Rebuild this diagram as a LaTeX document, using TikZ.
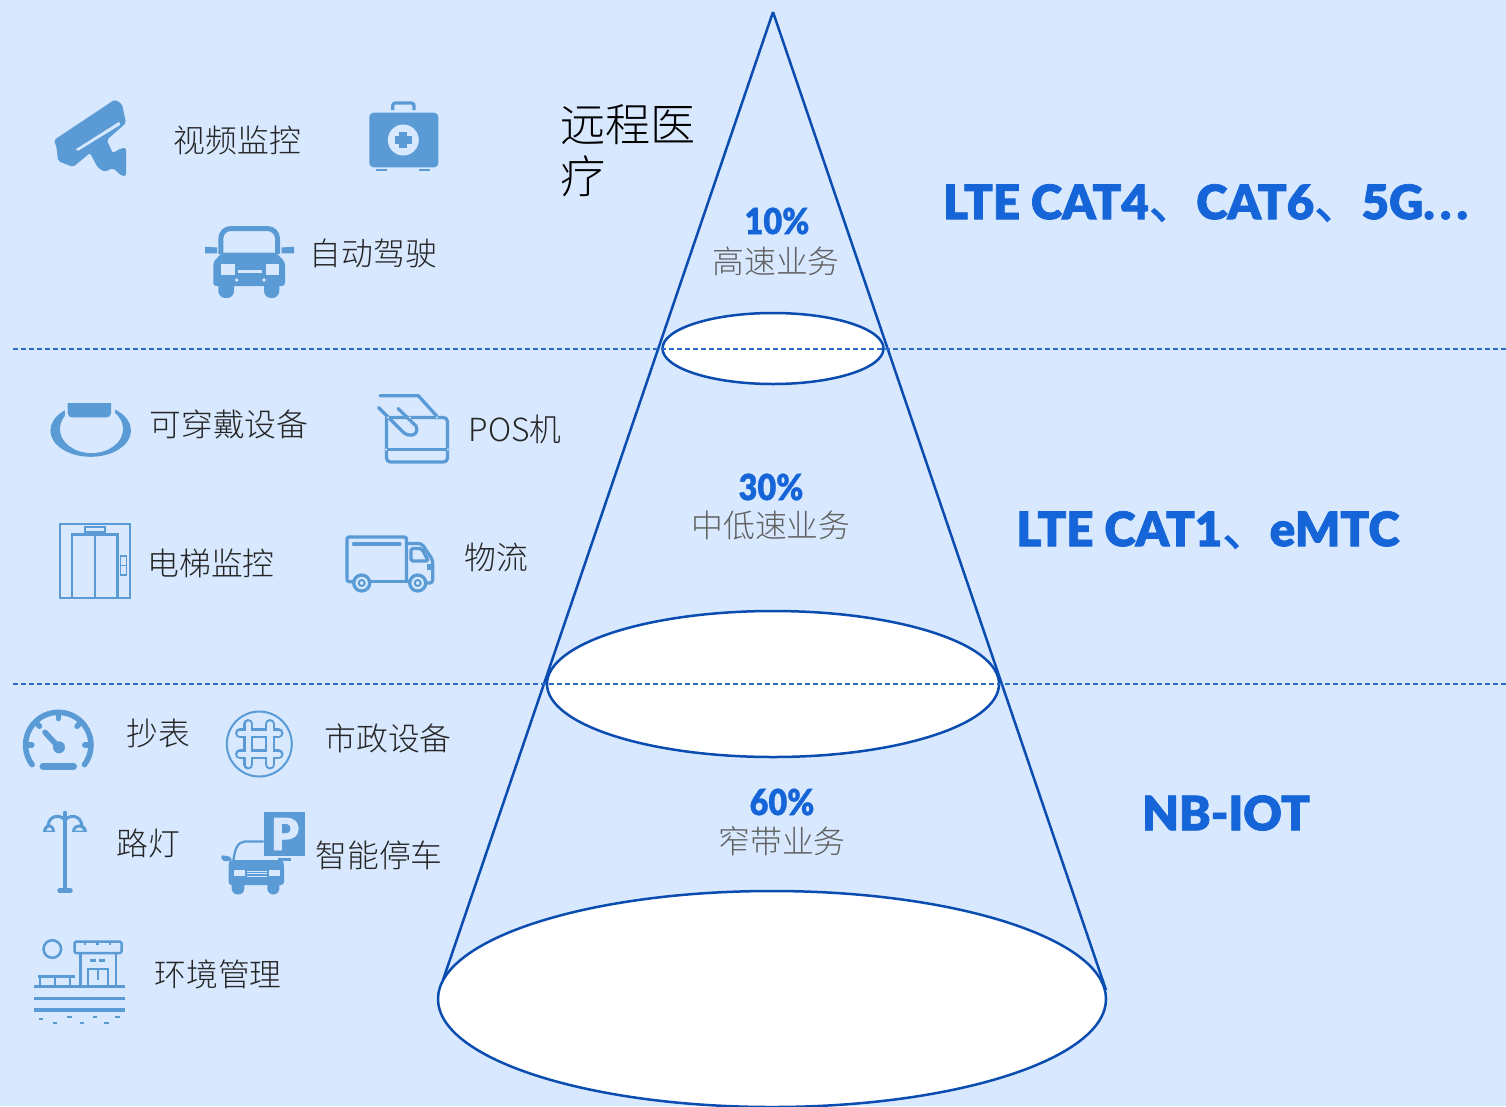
\documentclass[tikz,border=0pt]{standalone}
\usepackage{fontspec}
\usetikzlibrary{calc}
\newfontfamily\cjklight{Noto Sans CJK SC Light}
\newfontfamily\cjkmark{Noto Sans CJK SC}[FakeBold=1.5]
\newfontfamily\heavylabel{Lato}[UprightFont=* Black,FakeBold=1.6]
\newfontfamily\narrowlabel{Lato}[UprightFont=* Black,FakeStretch=0.9,FakeBold=0.8]
\definecolor{pagebg}{HTML}{D7E8FF}
\definecolor{iconblue}{HTML}{5B9BD5}
\definecolor{conelinecolor}{HTML}{0B4CB0}
\definecolor{labelblue}{HTML}{1565D8}
\definecolor{dashblue}{HTML}{2A6CC8}
\tikzset{
  itemtext/.style={font=\cjklight\fontsize{18.1}{20}\selectfont,text=black!85,inner sep=0pt},
  bigtext/.style={font=\cjklight\fontsize{25.7}{29.5}\selectfont,text=black,inner sep=0pt,align=left},
  ratetext/.style={font=\cjklight\fontsize{18.1}{20}\selectfont,text=black!62,inner sep=0pt},
  ratenum/.style={font=\narrowlabel\fontsize{20.5}{22}\selectfont,text=labelblue,inner sep=0pt},
  techtext/.style={font=\heavylabel\fontsize{27}{30}\selectfont,text=labelblue,inner sep=0pt},
  coneline/.style={draw=conelinecolor,line width=0.05cm},
  levelline/.style={draw=dashblue,line width=0.04cm,dash pattern=on 0.1cm off 0.06cm},
  iconfill/.style={fill=iconblue,draw=none},
  iconline/.style={draw=iconblue,line width=0.065cm,line cap=round,line join=round},
  iconthin/.style={draw=iconblue,line width=0.05cm},
  cutfill/.style={fill=pagebg,draw=none}
}
\begin{document}
\begin{tikzpicture}[x=0.02cm,y=-0.02cm]
  \useasboundingbox (0,0) rectangle (1506,1106);
  \fill [pagebg] (0,0) rectangle (1506,1106);

  % Marking the cone
  \coordinate (apex) at (773,12);
  \coordinate (coneleft) at (443,980);
  \coordinate (coneright) at (1106,990);
  \draw [coneline] (apex) -- (coneleft);
  \draw [coneline] (apex) -- (coneright);
  \begin{scope}
    \clip (0,0) rectangle (1506,1106);
    \draw [coneline,fill=white] (772,999) ellipse (334 and 108);
  \end{scope}
  \draw [coneline,fill=white] (773,684) ellipse (226 and 73);
  \draw [coneline,fill=white] (773,348.5) ellipse (110.5 and 35.5);

  % Drawing level lines
  \coordinate (levelaleft) at (13,348.5);
  \coordinate (levelaright) at (1506,348.5);
  \coordinate (levelbleft) at (13,683.5);
  \coordinate (levelbright) at (1506,683.5);
  \draw [levelline] (levelaleft) -- (levelaright);
  \draw [levelline] (levelbleft) -- (levelbright);

  % Camera icon
  \fill [iconfill,rounded corners=0.04cm] (54,140) -- (115,99.5) -- (122,104) -- (126,123) -- (106.7,140) -- (112.7,153) -- (121.7,148) -- (126,148) -- (126,176) -- (121.7,176) -- (113,168) -- (105,171.7) -- (98,168) -- (90,153) -- (73,167) -- (58,161) -- (56.7,148) -- cycle;
  \fill [cutfill] (75.7,149.3) -- (119.3,121.7) -- (120,125) -- (78.3,150.7) -- cycle;

  % Medical kit icon
  \draw [iconline,rounded corners=0.05cm,line cap=butt] (392.7,110) -- (392.7,103) -- (414,103) -- (414,110);
  \fill [iconfill,rounded corners=0.08cm] (369.3,112.7) rectangle (438.3,167.3);
  \fill [iconfill] (376,169) rectangle (386.7,170.7);
  \fill [iconfill] (419.3,169) rectangle (430,170.7);
  \fill [cutfill] (403.3,140) circle (15.5);
  \fill [iconfill] (399.3,131.7) rectangle (407.3,148.3);
  \fill [iconfill] (395,136) rectangle (411.7,144);

  % Car icon
  \draw [iconline,line width=0.1cm,rounded corners=0.2cm,line cap=butt] (220.8,254) -- (220.8,228.5) -- (277.5,228.5) -- (277.5,254);
  \fill [iconfill,rounded corners=0.06cm] (222,252.7) -- (276,252.7) -- (285,262) -- (285,286) -- (213.3,286) -- (213.3,262) -- cycle;
  \fill [iconfill,rounded corners=0.14cm] (218.3,275) rectangle (234,298);
  \fill [iconfill,rounded corners=0.14cm] (264,275) rectangle (279.3,298);
  \fill [iconfill] (205,246.7) -- (217,247.5) -- (217,253.3) -- (205,253.3) -- cycle;
  \fill [iconfill] (281.7,247.5) -- (294,246.7) -- (294,253.3) -- (281.7,253.3) -- cycle;
  \fill [cutfill] (221,264) rectangle (235,275);
  \fill [cutfill] (265.7,264) rectangle (279.3,275);
  \fill [cutfill] (238.3,270) rectangle (261.7,272.7);
  \fill [cutfill] (236.7,280) circle (1.8);
  \fill [cutfill] (264,280) circle (1.8);

  % Wrist band icon
  \fill [iconfill] (90.7,430.5) ellipse (40.3 and 26.3);
  \fill [cutfill] (91.5,429) ellipse (31.5 and 24);
  \fill [cutfill] (60,400) rectangle (120,404);
  \fill [cutfill] (64.5,402) rectangle (114.5,419.5);
  \fill [iconfill,rounded corners=0.08cm] (67.7,396) -- (111,396) -- (111,417.3) -- (67.7,417.3) -- cycle;
  \fill [cutfill] (60,396) rectangle (120,402.7);

  % Card terminal icon
  \draw [iconline,rounded corners=0.08cm] (386.5,418) -- (386.5,462) -- (447.5,462) -- (447.5,417.5) -- (386.5,417.5);
  \draw [iconline] (386,449.5) -- (448,449.5);
  \draw [iconline] (380,395.7) -- (418.3,395.7) -- (436.7,416);
  \draw [iconline] (378.5,407.5) -- (402,431) .. controls (408,438) and (420,436) .. (416,426) -- (398,408.5);
  \foreach \dotx/\doty in {388/417.5,410/417.5,437/417.5,386/449.5,448/449.5}{
    \fill [cutfill] (\dotx,\doty) circle (1.2);
  }

  % Elevator icon
  \draw [iconthin] (60,524) rectangle (130,598);
  \draw [iconthin] (72,534.5) rectangle (117.5,598);
  \draw [iconthin] (95,534.5) -- (95,598);
  \draw [iconthin,line width=0.035cm] (85,527) rectangle (105,532);
  \draw [iconthin,line width=0.035cm] (120.5,556) rectangle (126.5,575);
  \draw [iconthin,line width=0.035cm] (120.5,565.5) -- (126.5,565.5);

  % Truck icon
  \draw [iconline,rounded corners=0.04cm] (353,581.7) -- (347,581.7) -- (347,537) -- (406.5,537) -- (406.5,581.7);
  \draw [iconline] (369.5,581.7) -- (410,581.7);
  \draw [iconline] (353.5,544) -- (400,544);
  \draw [iconline,rounded corners=0.06cm] (406.5,543.5) -- (421.7,543.5) -- (432.7,560) -- (432.7,583) -- (425.5,583);
  \draw [iconline,rounded corners=0.04cm] (411,548.5) -- (421.7,548.5) -- (428.3,561) -- (411,561) -- cycle;
  \fill [iconfill] (426.7,564) rectangle (432,570);
  \draw [iconline,fill=pagebg] (361.7,583) circle (8);
  \draw [iconline,line width=0.04cm,fill=pagebg] (361.7,583) circle (3);
  \draw [iconline,fill=pagebg] (417.7,583) circle (8);
  \draw [iconline,line width=0.04cm,fill=pagebg] (417.7,583) circle (3);

  % Gauge icon
  \draw [iconline,line width=0.11cm] (32.2,764.7) arc (143:397:32.7);
  \foreach \tickangle in {180,225,270,315,0}{
    \draw [iconline,line width=0.11cm] ($(58.3,745)+(\tickangle:31)$) -- ($(58.3,745)+(\tickangle:26.5)$);
  }
  \draw [iconline,line width=0.14cm] (43,766) -- (73.5,766);
  \draw [iconline,line width=0.11cm] (45,732.3) -- (58.3,746.7);
  \fill [iconfill] (59,747.3) circle (6);

  % Hash icon
  \draw [iconthin,line width=0.04cm] (259.3,744) circle (32.5);
  \foreach \barx in {248.3,270}{
    \draw [iconline,line width=0.2cm] (\barx,724) -- (\barx,764.5);
  }
  \foreach \bary in {733.3,754.3}{
    \draw [iconline,line width=0.2cm] (240,\bary) -- (278.5,\bary);
  }
  \foreach \barx in {248.3,270}{
    \draw [line width=0.11cm,draw=pagebg,line cap=round] (\barx,724) -- (\barx,764.5);
  }
  \foreach \bary in {733.3,754.3}{
    \draw [line width=0.11cm,draw=pagebg,line cap=round] (240,\bary) -- (278.5,\bary);
  }

  % Street lamp icon
  \draw [iconline,line width=0.07cm] (65,812.5) -- (65,890);
  \draw [iconline,line width=0.09cm] (59.5,890.7) -- (70.5,890.7);
  \draw [iconline,line width=0.06cm,line cap=butt] (48,826) .. controls (49,815) and (60,814) .. (65,820);
  \draw [iconline,line width=0.06cm,line cap=butt] (82,826) .. controls (81,815) and (70,814) .. (65,820);
  \fill [iconfill] (43.3,832) .. controls (43.3,822) and (55,822) .. (55,832) -- cycle;
  \fill [iconfill] (71.7,832) .. controls (71.7,822) and (86.7,822) .. (86.7,832) -- cycle;
  \fill [cutfill] (46.5,830.5) .. controls (47.5,826.5) and (51,826.5) .. (52,830.5) -- cycle;
  \fill [cutfill] (75,830.5) .. controls (77,826.5) and (81,826.5) .. (83.5,830.5) -- cycle;

  % Parking icon
  \fill [iconfill] (264.3,812.3) rectangle (305,855.7);
  \node (parkletter) [anchor=center,inner sep=0pt,text=pagebg,font=\heavylabel\fontsize{25}{26}\selectfont] at (285,834) {P};
  \draw [iconline,line width=0.045cm,line cap=butt] (233.5,860) .. controls (235,848) and (238,842) .. (245,841.5) -- (263.5,841.5);
  \fill [iconfill,rounded corners=0.06cm] (230,860) -- (282.5,860) -- (284,864) -- (284,885) -- (228.5,885) -- (228.5,864) -- cycle;
  \fill [iconfill,rounded corners=0.12cm] (231.7,875) rectangle (244.3,894.5);
  \fill [iconfill,rounded corners=0.12cm] (267.3,875) rectangle (279.3,894.5);
  \fill [iconfill,rounded corners=0.04cm] (221,855) -- (231.7,857) -- (231.7,861) -- (222,861) -- cycle;
  \fill [iconfill] (278.3,858.3) rectangle (291,860.7);
  \fill [cutfill] (234.3,870) rectangle (245,876);
  \fill [cutfill] (269.3,870) rectangle (280,876);
  \foreach \grilley in {870.5,873,875.5}{
    \fill [cutfill] (246.7,\grilley) rectangle (267.3,\grilley+0.9);
  }

  % Environment icon
  \draw [iconthin] (52.3,949) circle (8.8);
  \draw [iconline,line width=0.05cm,rounded corners=0.03cm] (74.5,941.5) rectangle (121.5,953);
  \foreach \tickx in {85,97.3,110}{
    \draw [iconthin] (\tickx,941.5) -- (\tickx,945);
  }
  \draw [iconthin] (80.7,953) -- (80.7,986);
  \draw [iconthin] (116,953) -- (116,986);
  \draw [iconline,line cap=butt] (34,986.7) -- (124.5,986.7);
  \draw [iconline,line cap=butt] (34,998.3) -- (124.5,998.3);
  \draw [iconline,line cap=butt] (34,1010) -- (124.5,1010);
  \draw [iconthin] (37.5,976.7) -- (74.5,976.7);
  \foreach \fencex in {40,55,70}{
    \draw [iconthin] (\fencex,976.7) -- (\fencex,986);
  }
  \draw [iconthin] (88,986) -- (88,969.2) -- (108,969.2) -- (108,986);
  \draw [iconthin] (98,969.2) -- (98,980);
  \draw [iconthin] (90,960.7) -- (95.5,960.7);
  \draw [iconthin] (99,960.7) -- (105,960.7);
  \foreach \xa/\xb/\ya in {39.3/43.3/1019,52.7/56.7/1023,67.3/71.7/1017,80/84/1023,93.3/97.3/1017,104.3/108.7/1023,115.3/120/1017}{
    \fill [iconfill] (\xa,\ya-1) rectangle (\xb,\ya+1);
  }

  % Marking the left texts
  \node (videotext) [itemtext] at (237.5,140) {视频监控};
  \node (drivetext) [itemtext] at (373.5,253.5) {自动驾驶};
  \node (medicaltext) [bigtext,anchor=north west] at (560,104) {远程医\\疗};
  \node (weartext) [itemtext] at (229,424.5) {可穿戴设备};
  \node (postext) [itemtext] at (515,429.5) {POS机};
  \node (lifttext) [itemtext] at (211,563.5) {电梯监控};
  \node (freighttext) [itemtext] at (496,557) {物流};
  \node (metertext) [itemtext] at (158,733.5) {抄表};
  \node (citytext) [itemtext] at (388,738.5) {市政设备};
  \node (lamptext) [itemtext] at (148,843) {路灯};
  \node (parktext) [itemtext] at (379,855.5) {智能停车};
  \node (envtext) [itemtext] at (218,974) {环境管理};

  % Marking the rates in the cone
  \node (hirate) [ratenum] at (777,221) {10\%};
  \node (hitext) [ratetext] at (776,261.5) {高速业务};
  \node (midrate) [ratenum] at (771,487) {30\%};
  \node (midtext) [ratetext] at (771,525.5) {中低速业务};
  \node (lowrate) [ratenum] at (782,802) {60\%};
  \node (lowtext) [ratetext] at (782,841.5) {窄带业务};

  % Marking the technologies
  \node (hitech) [techtext] at (1205.5,203) {LTE CAT4{\cjkmark 、}CAT6{\cjkmark 、}5G.\kern3pt.\kern3pt.};
  \node (midtech) [techtext] at (1208,530) {LTE CAT1{\cjkmark 、}eMTC};
  \node (lowtech) [techtext] at (1226,813) {NB-IOT};
\end{tikzpicture}
\end{document}
